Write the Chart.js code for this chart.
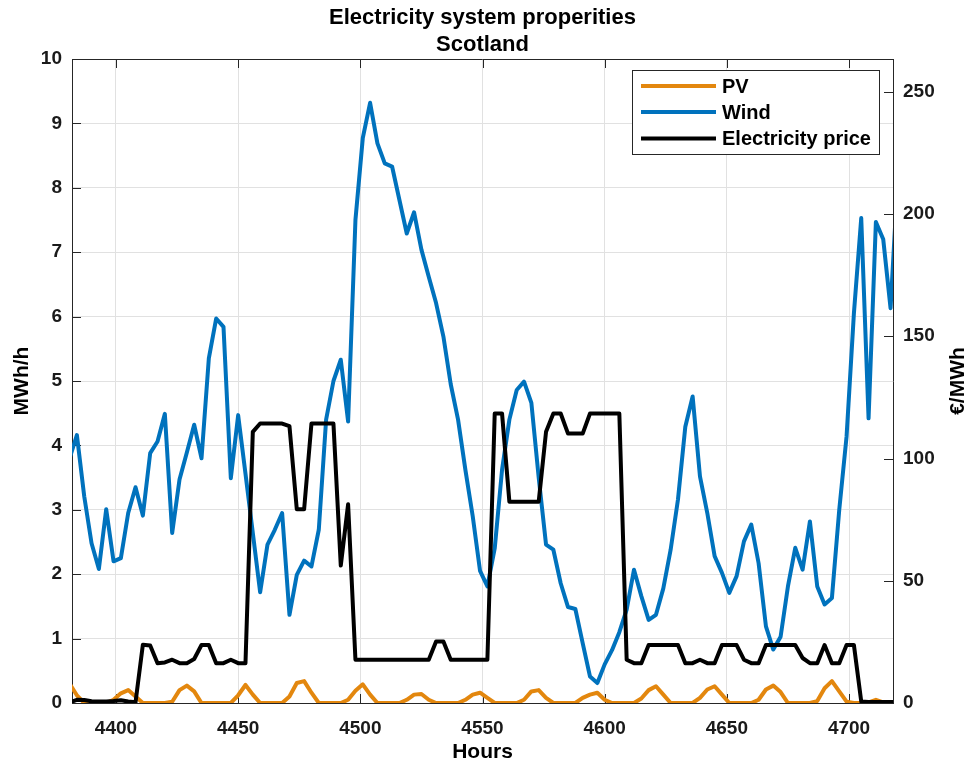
<!DOCTYPE html>
<html>
<head>
<meta charset="utf-8">
<title>Electricity system properities – Scotland</title>
<script src="https://cdn.jsdelivr.net/npm/chart.js@4.4.1/dist/chart.umd.min.js"></script>
<style>
  html, body { margin: 0; padding: 0; background: #ffffff; }
  #wrap { width: 971px; height: 769px; position: relative; }
</style>
</head>
<body>
<div id="wrap"><canvas id="chart" width="971" height="769"></canvas></div>
<script>
// Three-hourly values, first sample at hour 4381
const START_HOUR = 4381;
const STEP_HOURS = 3;

// PV output (MWh/h)
const pv = [
  0.30, 0.12, 0.00, 0.00, 0.00, 0.00, 0.05, 0.15, 0.20, 0.10,
  0.00, 0.00, 0.00, 0.00, 0.02, 0.20, 0.27, 0.18, 0.00, 0.00,
  0.00, 0.00, 0.00, 0.12, 0.28, 0.13, 0.00, 0.00, 0.00, 0.00,
  0.10, 0.31, 0.34, 0.16, 0.00, 0.00, 0.00, 0.00, 0.05, 0.19,
  0.29, 0.13, 0.00, 0.00, 0.00, 0.00, 0.05, 0.13, 0.14, 0.05,
  0.00, 0.00, 0.00, 0.00, 0.05, 0.13, 0.16, 0.08, 0.00, 0.00,
  0.00, 0.00, 0.05, 0.18, 0.20, 0.08, 0.00, 0.00, 0.00, 0.00,
  0.08, 0.13, 0.16, 0.05, 0.00, 0.00, 0.00, 0.00, 0.07, 0.20,
  0.26, 0.13, 0.00, 0.00, 0.00, 0.00, 0.08, 0.21, 0.26, 0.13,
  0.00, 0.00, 0.00, 0.00, 0.05, 0.21, 0.27, 0.17, 0.00, 0.00,
  0.00, 0.00, 0.03, 0.23, 0.34, 0.18, 0.02, 0.00, 0.00, 0.01,
  0.05, 0.01, 0.00, 0.00
];

// Wind output (MWh/h)
const wind = [
  3.80, 4.16, 3.21, 2.48, 2.08, 3.01, 2.20, 2.25, 2.95, 3.35,
  2.91, 3.88, 4.06, 4.49, 2.64, 3.47, 3.89, 4.32, 3.80, 5.35,
  5.97, 5.84, 3.49, 4.47, 3.56, 2.64, 1.72, 2.46, 2.69, 2.95,
  1.37, 1.99, 2.21, 2.12, 2.69, 4.40, 5.00, 5.33, 4.37, 7.50,
  8.77, 9.32, 8.69, 8.38, 8.33, 7.81, 7.29, 7.62, 7.04, 6.62,
  6.21, 5.69, 4.95, 4.40, 3.62, 2.90, 2.05, 1.81, 2.40, 3.62,
  4.40, 4.86, 4.99, 4.66, 3.50, 2.46, 2.38, 1.86, 1.49, 1.46,
  0.93, 0.41, 0.31, 0.60, 0.82, 1.10, 1.45, 2.07, 1.66, 1.29,
  1.37, 1.78, 2.38, 3.16, 4.29, 4.76, 3.52, 2.95, 2.28, 2.02,
  1.71, 1.97, 2.51, 2.77, 2.17, 1.19, 0.83, 1.03, 1.81, 2.41,
  2.07, 2.82, 1.81, 1.53, 1.63, 3.00, 4.14, 6.05, 7.53, 4.42,
  7.47, 7.20, 6.13, 8.20
];

// Electricity price (€/MWh)
const price = [
  0.2, 1.3, 1.2, 0.7, 0.6, 0.6, 0.8, 1.1, 0.6, 0.3,
  23.8, 23.5, 16.3, 16.6, 17.7, 16.3, 16.3, 18.0, 23.7, 23.7,
  16.3, 16.3, 17.7, 16.3, 16.3, 110.9, 114.3, 114.3, 114.3, 114.3,
  113.2, 79.2, 79.2, 114.3, 114.3, 114.3, 114.3, 56.2, 81.3, 17.7,
  17.7, 17.7, 17.7, 17.7, 17.7, 17.7, 17.7, 17.7, 17.7, 17.7,
  25.2, 25.2, 17.7, 17.7, 17.7, 17.7, 17.7, 17.7, 118.4, 118.4,
  82.3, 82.3, 82.3, 82.3, 82.3, 110.9, 118.4, 118.4, 110.2, 110.2,
  110.2, 118.4, 118.4, 118.4, 118.4, 118.4, 17.7, 16.3, 16.3, 23.7,
  23.7, 23.7, 23.7, 23.7, 16.3, 16.3, 17.7, 16.3, 16.3, 23.7,
  23.7, 23.7, 17.7, 16.3, 16.3, 23.7, 23.7, 23.7, 23.7, 23.7,
  18.4, 16.3, 16.3, 23.7, 16.3, 16.3, 23.7, 23.7, 0.6, 0.4,
  0.4, 0.4, 0.4, 0.4
];

const hourTicks = [4400, 4450, 4500, 4550, 4600, 4650, 4700];
const energyTicks = [0, 1, 2, 3, 4, 5, 6, 7, 8, 9, 10];
const priceTicks = [0, 50, 100, 150, 200, 250];

const seriesNames = ['PV', 'Wind', 'Electricity price'];
const seriesColors = ['#E3870E', '#0072BD', '#000000'];
const titleLines = ['Electricity system properities', 'Scotland'];
const xTitle = 'Hours';
const yTitle = 'MWh/h';
const y2Title = '€/MWh';

const FONT = '"Liberation Sans", Arial, Helvetica, sans-serif';
const AXIS_COLOR = '#262626';
const GRID_COLOR = '#e1e1e1';
const TICK_LEN = 9;

const hours = wind.map((_, i) => START_HOUR + STEP_HOURS * i);
const toPoints = values => values.map((v, i) => ({ x: hours[i], y: v }));

// Inward tick marks, top frame edge, right axis title, plot title and legend
const framePlugin = {
  id: 'frame',
  beforeDatasetsDraw(chart) {
    const { ctx, chartArea: a, scales } = chart;
    ctx.save();
    ctx.strokeStyle = AXIS_COLOR;
    ctx.lineWidth = 1;
    ctx.beginPath();
    scales.x.ticks.forEach(t => {
      const px = Math.round(scales.x.getPixelForValue(t.value)) + 0.5;
      ctx.moveTo(px, a.bottom); ctx.lineTo(px, a.bottom - TICK_LEN);
      ctx.moveTo(px, a.top); ctx.lineTo(px, a.top + TICK_LEN);
    });
    scales.y.ticks.forEach(t => {
      const py = Math.round(scales.y.getPixelForValue(t.value)) + 0.5;
      ctx.moveTo(a.left, py); ctx.lineTo(a.left + TICK_LEN, py);
    });
    scales.y1.ticks.forEach(t => {
      const py = Math.round(scales.y1.getPixelForValue(t.value)) + 0.5;
      ctx.moveTo(a.right, py); ctx.lineTo(a.right - TICK_LEN, py);
    });
    ctx.moveTo(a.left, a.top + 0.5); ctx.lineTo(a.right, a.top + 0.5);
    ctx.stroke();
    ctx.restore();
  },
  afterDraw(chart) {
    const { ctx, chartArea: a } = chart;
    ctx.save();
    ctx.fillStyle = '#000000';
    ctx.textAlign = 'center';
    ctx.textBaseline = 'middle';

    // Plot title
    ctx.font = 'bold 22px ' + FONT;
    const cx = (a.left + a.right) / 2;
    ctx.fillText(titleLines[0], cx, 18);
    ctx.fillText(titleLines[1], cx, 45);

    // Right axis title
    ctx.font = 'bold 21px ' + FONT;
    ctx.save();
    ctx.translate(958, (a.top + a.bottom) / 2);
    ctx.rotate(-Math.PI / 2);
    ctx.fillText(y2Title, 0, 0);
    ctx.restore();

    // Legend box
    const box = { x: 632.5, y: 70.5, w: 247, h: 84 };
    ctx.fillStyle = '#ffffff';
    ctx.fillRect(box.x, box.y, box.w, box.h);
    ctx.strokeStyle = AXIS_COLOR;
    ctx.lineWidth = 1;
    ctx.strokeRect(box.x, box.y, box.w, box.h);
    const rowY = [86, 112, 138.5];
    ctx.font = 'bold 20px ' + FONT;
    ctx.textAlign = 'left';
    chart.data.datasets.forEach((ds, i) => {
      ctx.strokeStyle = ds.borderColor;
      ctx.lineWidth = 4;
      ctx.beginPath();
      ctx.moveTo(641, rowY[i]);
      ctx.lineTo(716, rowY[i]);
      ctx.stroke();
      ctx.fillStyle = '#000000';
      ctx.fillText(ds.label, 722, rowY[i] + 1);
    });
    ctx.restore();
  }
};

const tickFont = { family: FONT, size: 19, weight: 'bold' };
const titleFont = { family: FONT, size: 21, weight: 'bold' };

new Chart(document.getElementById('chart'), {
  type: 'line',
  data: {
    datasets: [
      { label: seriesNames[0], data: toPoints(pv), yAxisID: 'y', borderColor: seriesColors[0], order: 3 },
      { label: seriesNames[1], data: toPoints(wind), yAxisID: 'y', borderColor: seriesColors[1], order: 2 },
      { label: seriesNames[2], data: toPoints(price), yAxisID: 'y1', borderColor: seriesColors[2], order: 1 }
    ]
  },
  options: {
    responsive: false,
    devicePixelRatio: 1,
    animation: false,
    layout: { padding: { top: 59, left: 0, right: 0, bottom: 0 } },
    elements: {
      line: { borderWidth: 4, tension: 0, borderJoinStyle: 'round', borderCapStyle: 'butt', fill: false },
      point: { radius: 0, hoverRadius: 0 }
    },
    datasets: { line: { clip: 0 } },
    plugins: {
      legend: { display: false },
      title: { display: false },
      tooltip: { enabled: false }
    },
    events: [],
    scales: {
      x: {
        type: 'linear',
        min: 4382,
        max: 4718,
        afterBuildTicks: s => { s.ticks = hourTicks.map(v => ({ value: v })); },
        afterFit: s => { s.height = 66; },
        grid: { color: GRID_COLOR, lineWidth: 1, drawTicks: false },
        border: { display: true, color: AXIS_COLOR, width: 1 },
        ticks: { font: tickFont, color: '#1a1a1a', padding: 14, maxRotation: 0, autoSkip: false, callback: v => String(v) },
        title: { display: true, text: xTitle, font: titleFont, color: '#000000', padding: { top: 0, bottom: 4 } }
      },
      y: {
        type: 'linear',
        position: 'left',
        min: 0,
        max: 10,
        afterBuildTicks: s => { s.ticks = energyTicks.map(v => ({ value: v })); },
        afterFit: s => { s.width = 72; },
        grid: { color: GRID_COLOR, lineWidth: 1, drawTicks: false },
        border: { display: true, color: AXIS_COLOR, width: 1 },
        ticks: { font: tickFont, color: '#1a1a1a', padding: 10, callback: v => String(v) },
        title: { display: true, text: yTitle, font: titleFont, color: '#000000', padding: { top: 10, bottom: 0 } }
      },
      y1: {
        type: 'linear',
        position: 'right',
        min: 0,
        max: 263.4,
        afterBuildTicks: s => { s.ticks = priceTicks.map(v => ({ value: v })); },
        afterFit: s => { s.width = 78; },
        grid: { drawOnChartArea: false, drawTicks: false },
        border: { display: true, color: AXIS_COLOR, width: 1 },
        ticks: { font: tickFont, color: '#1a1a1a', padding: 10, callback: v => String(v) }
      }
    }
  },
  plugins: [framePlugin]
});
</script>
</body>
</html>
